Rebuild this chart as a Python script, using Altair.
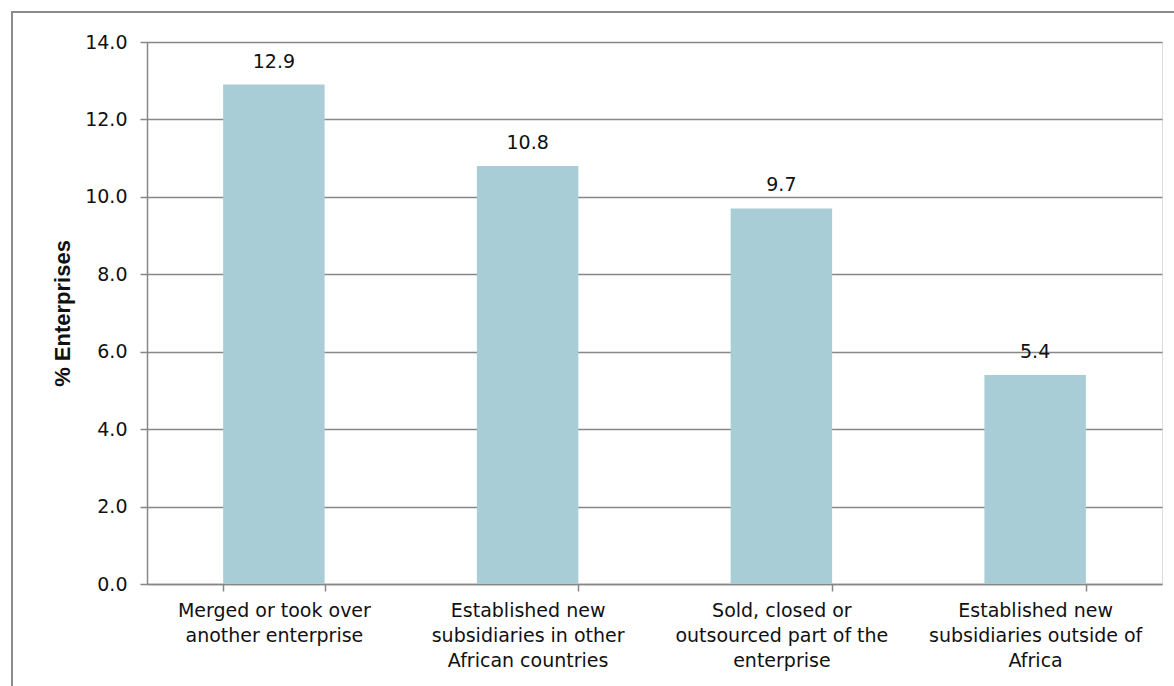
import altair as alt
import pandas as pd

categories = [
    "Merged or took over|another enterprise",
    "Established new|subsidiaries in other|African countries",
    "Sold, closed or|outsourced part of the|enterprise",
    "Established new|subsidiaries outside of|Africa",
]
values = [12.9, 10.8, 9.7, 5.4]
y_ticks = [0, 2, 4, 6, 8, 10, 12, 14]

df = pd.DataFrame({"cat": categories, "val": values})

GRAY = "#878787"
TXT = "#111111"
FONT = "DejaVu Sans"
FS = 19

x_enc = alt.X(
    "cat:N",
    sort=categories,
    title=None,
    scale=alt.Scale(paddingInner=0.6, paddingOuter=0.3),
    axis=alt.Axis(
        labelExpr="split(datum.label, '|')",
        labelAngle=0,
        labelFont=FONT,
        labelFontSize=FS,
        labelColor=TXT,
        labelLineHeight=25,
        labelPadding=10,
        labelBaseline="top",
        labelLimit=0,
        tickBand="extent",
        tickSize=7,
        tickColor=GRAY,
        tickWidth=1.5,
        domainColor=GRAY,
        domainWidth=1.5,
        grid=False,
    ),
)

y_enc = alt.Y(
    "val:Q",
    scale=alt.Scale(domain=[0, 14], nice=False),
    axis=alt.Axis(
        values=y_ticks,
        format=".1f",
        title="% Enterprises",
        titleFont="Liberation Sans",
        titleFontSize=22,
        titleFontWeight="bold",
        titleColor=TXT,
        titleAngle=-90,
        titleX=-85,
        titleY=271,
        titleAlign="center",
        titleBaseline="middle",
        labelFont=FONT,
        labelFontSize=FS,
        labelColor=TXT,
        labelPadding=13,
        tickSize=7,
        tickColor=GRAY,
        tickWidth=1.5,
        domainColor=GRAY,
        domainWidth=1.5,
        grid=True,
        gridColor=GRAY,
        gridWidth=1.5,
    ),
)

bars = alt.Chart(df).mark_bar(color="#a9cdd6").encode(x=x_enc, y=y_enc)

labels = alt.Chart(df).mark_text(
    font=FONT, fontSize=FS, color=TXT, baseline="alphabetic", dy=-17
).encode(
    x=alt.X("cat:N", sort=categories),
    y="val:Q",
    text=alt.Text("val:Q", format=".1f"),
)

frame = alt.Chart(df).mark_rect(
    fill=None, stroke="#8c8c8c", strokeWidth=1.5, clip=False
).encode(
    x=alt.value(-135), x2=alt.value(1200),
    y=alt.value(-30), y2=alt.value(800),
)

chart = alt.layer(frame, bars, labels).properties(
    width=1015,
    height=542,
    autosize=alt.AutoSizeParams(type="none"),
    padding={"left": 147, "top": 42, "right": 12, "bottom": 102},
).configure_view(stroke=None).configure(background="white")

chart.save("out.html", embed_options={"renderer": "svg", "actions": False})
